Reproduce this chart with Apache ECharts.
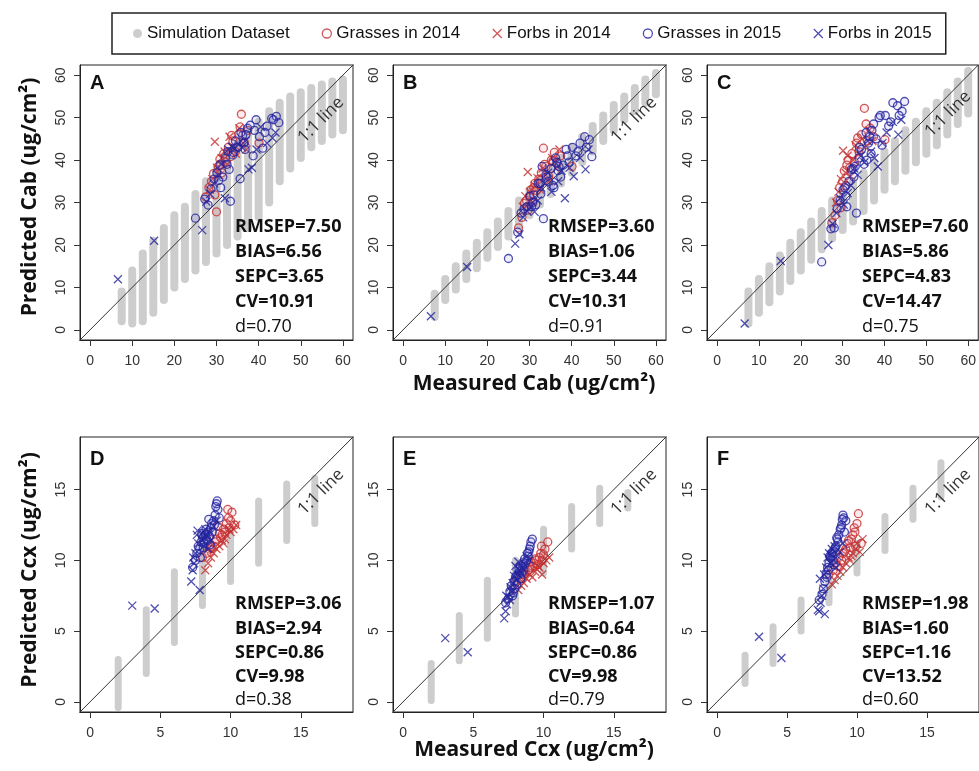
<!DOCTYPE html>
<html>
<head>
<meta charset="utf-8">
<title>Measured vs predicted Cab / Ccx</title>
<script src="https://cdn.jsdelivr.net/npm/echarts@6/dist/echarts.min.js"></script>
<style>
html, body { margin:0; padding:0; background:#fff; }
#main { width:979px; height:771px; }
</style>
</head>
<body>
<div id="main"></div>
<script>
// names and tick labels
var groupNames = ['Simulation Dataset', 'Grasses in 2014', 'Forbs in 2014', 'Grasses in 2015', 'Forbs in 2015'];
var panelLetters = ['A', 'B', 'C', 'D', 'E', 'F'];
var cabTicks = [0, 10, 20, 30, 40, 50, 60];
var ccxTicks = [0, 5, 10, 15];

// simulation dataset, one gray column per simulated value (low..high of prediction)
var simCabX = [7.5, 10, 12.5, 15, 17.5, 20, 22.5, 25, 27.5, 30, 32.5, 35, 37.5, 40, 42.5, 45, 47.5, 50, 52.5, 55, 57.5, 60];
var simALo = [2, 1.5, 2, 4, 7, 10, 12, 14, 16, 18, 20, 22, 24, 26.5, 30, 35, 38, 40.5, 43, 44.5, 46, 47];
var simAHi = [9, 14, 18, 21, 24, 27, 29, 32, 35, 38, 41, 44, 47, 49, 51.5, 53.5, 55, 56, 57, 57.8, 58.5, 59];
var simBLo = [3, 7, 9.5, 12, 14.5, 17, 19.5, 22, 24.5, 27, 29.5, 32, 34.5, 37, 39.5, 42, 44.5, 47, 49.5, 51.5, 53.5, 55.5];
var simBHi = [8.5, 12, 15, 18, 20.5, 23, 25.5, 28, 30.5, 33, 35.5, 38, 40.5, 43, 45.5, 48, 50.5, 53, 55, 57, 59, 60.5];
var simCLo = [1.5, 4, 6.5, 9, 11.5, 14, 16.5, 19, 21.5, 23.5, 25.5, 28, 30.5, 33, 35, 37.5, 39.5, 41.5, 43.5, 46, 48.5, 51];
var simCHi = [9, 12, 15, 17.5, 20.5, 23, 25.5, 28, 30.5, 32.5, 35, 37, 39.5, 42, 44.5, 47, 49, 51.5, 53.5, 56, 58.5, 61];

var simCcxX = [2, 4, 6, 8, 10, 12, 14, 16];
var simDLo = [-0.4, 2.0, 4.2, 6.8, 8.5, 9.8, 11.4, 12.6];
var simDHi = [3.0, 6.5, 9.2, 11.5, 12.2, 14.2, 15.4, 15.8];
var simELo = [0.1, 2.9, 4.5, 6.2, 9.1, 10.8, 12.6, 13.7];
var simEHi = [2.7, 6.1, 8.6, 10.0, 12.2, 13.8, 15.1, 14.8];
var simFLo = [1.3, 2.7, 5.0, 7.0, 9.1, 10.7, 12.9, 14.5];
var simFHi = [3.3, 5.3, 7.2, 9.0, 11.2, 13.1, 15.1, 16.9];

// measured Cab (shared by A, B, C)
var cabG14 = [27.4, 28.2, 28.8, 29.3, 29.6, 30.0, 30.4, 30.8, 31.3, 31.7, 32.2, 32.8, 33.3, 33.9, 34.5, 35.2, 35.9, 36.6, 37.4, 40.1, 31.0, 33.6, 35.6];
var cabF14 = [28.4, 29.0, 29.6, 30.1, 30.7, 31.2, 31.9, 32.5, 33.1, 33.8, 34.6, 35.4, 36.3, 37.1];
var cabG15 = [25.0, 27.2, 28.0, 28.7, 29.4, 30.1, 30.8, 31.5, 32.1, 32.7, 33.3, 33.9, 34.5, 35.1, 35.6, 36.2, 36.8, 37.4, 38.0, 38.7, 39.4, 40.2, 41.0, 42.0, 43.1, 44.2, 44.8, 33.0, 35.8, 31.0, 37.0, 39.0, 41.5, 43.5, 34.0, 36.5, 30.5, 32.5];
var cabF15 = [6.6, 15.2, 26.6, 27.6, 28.5, 29.4, 30.3, 31.2, 32.0, 32.8, 33.6, 34.4, 35.2, 36.0, 36.8, 37.6, 38.4, 39.5, 40.5, 42.0, 43.3, 44.0];

// predicted Cab
var predAG14 = [31.3, 33.5, 35.0, 36.8, 31.8, 27.8, 38.5, 40.2, 37.0, 41.5, 39.5, 43.0, 40.8, 44.5, 42.0, 46.0, 50.8, 44.2, 47.0, 44.0, 39.0, 45.8, 47.8];
var predAF14 = [33.0, 35.5, 44.3, 38.2, 36.4, 40.5, 42.0, 39.0, 45.5, 43.0, 41.5, 47.5, 44.0, 42.5];
var predAG15 = [26.3, 30.8, 29.4, 33.2, 35.5, 37.0, 38.8, 36.0, 40.5, 42.0, 30.3, 41.2, 44.5, 43.0, 35.6, 45.8, 42.5, 47.5, 48.2, 41.0, 49.5, 45.5, 42.8, 48.0, 49.8, 50.3, 48.8, 37.8, 46.5, 33.5, 46.0, 47.0, 46.5, 49.5, 41.8, 44.0, 35.2, 39.0];
var predAF15 = [11.9, 21.0, 23.5, 30.2, 32.0, 34.5, 36.5, 39.0, 31.0, 42.5, 43.2, 42.8, 43.8, 43.0, 44.5, 37.8, 38.2, 42.5, 47.8, 44.0, 45.2, 46.5];

var predBG14 = [24.0, 26.5, 29.8, 30.5, 28.2, 31.5, 33.0, 30.2, 34.5, 32.8, 35.5, 37.0, 42.8, 38.5, 36.2, 40.0, 41.8, 39.2, 41.0, 38.5, 33.5, 39.0, 39.8];
var predBF14 = [29.0, 31.5, 37.2, 32.5, 30.0, 34.0, 35.8, 33.0, 38.0, 36.5, 35.0, 40.5, 38.0, 42.5];
var predBG15 = [16.8, 23.0, 27.5, 28.5, 29.0, 31.5, 30.0, 29.5, 34.5, 32.0, 26.2, 36.5, 35.0, 38.0, 34.0, 40.5, 37.5, 36.0, 38.8, 42.5, 39.5, 43.0, 41.0, 44.0, 45.5, 44.8, 40.8, 38.5, 33.5, 31.8, 38.5, 41.0, 42.0, 43.0, 36.0, 39.5, 29.0, 34.5];
var predBF15 = [3.2, 14.8, 20.3, 22.5, 26.5, 28.0, 29.0, 27.8, 30.5, 33.5, 34.5, 37.0, 32.5, 39.5, 35.0, 37.5, 31.0, 38.2, 36.2, 40.5, 37.8, 42.5];

var predCG14 = [25.2, 27.0, 30.5, 33.5, 28.8, 35.0, 37.5, 34.0, 40.0, 38.2, 41.5, 39.5, 44.0, 42.0, 46.0, 52.2, 44.5, 47.5, 45.5, 44.8, 38.8, 45.2, 48.5];
var predCF14 = [30.0, 32.5, 35.5, 42.2, 37.0, 41.0, 36.2, 40.0, 43.5, 41.5, 45.0, 43.0, 47.0, 44.5];
var predCG15 = [16.0, 23.8, 24.0, 28.5, 30.5, 33.0, 31.5, 35.0, 37.8, 36.0, 27.5, 40.5, 42.5, 39.0, 46.5, 44.0, 41.5, 48.5, 45.0, 50.0, 43.5, 50.5, 48.0, 53.5, 52.8, 51.5, 53.8, 38.5, 40.0, 29.0, 47.0, 50.5, 49.0, 50.5, 43.0, 45.5, 33.5, 38.0];
var predCF15 = [1.5, 16.2, 20.0, 25.0, 27.5, 31.0, 29.5, 32.2, 34.0, 38.0, 36.5, 41.0, 39.5, 44.5, 42.0, 40.5, 38.5, 44.0, 46.5, 49.0, 46.0, 49.5];

// measured Ccx (shared by D, E, F)
var ccxG14 = [8.0, 8.3, 8.5, 8.7, 8.9, 9.0, 9.2, 9.3, 9.5, 9.6, 9.7, 9.8, 9.9, 10.0, 10.1, 8.6, 9.1, 9.4, 9.85, 10.3];
var ccxF14 = [8.2, 8.4, 8.6, 8.8, 9.0, 9.2, 9.4, 9.5, 9.7, 9.9, 10.0, 10.2, 10.4, 9.6];
var ccxG15 = [7.3, 7.5, 7.6, 7.7, 7.8, 7.9, 8.0, 8.1, 8.2, 8.3, 8.4, 8.5, 8.6, 8.7, 8.8, 8.9, 9.0, 9.1, 9.2, 8.05, 8.35, 8.65, 8.95, 7.95, 8.25, 8.55, 8.85, 9.05, 7.85, 8.45];
var ccxF15 = [3.0, 4.6, 7.2, 7.3, 7.4, 7.5, 7.6, 7.7, 7.8, 7.9, 8.0, 8.1, 8.2, 8.3, 8.4, 8.5, 8.6, 8.8, 9.0, 7.35, 7.65, 8.15];

// predicted Ccx
var predDG14 = [10.2, 10.5, 10.8, 11.0, 11.3, 11.5, 11.9, 11.6, 12.2, 12.0, 12.6, 13.6, 12.3, 12.8, 13.4, 10.9, 12.4, 11.8, 13.0, 12.5];
var predDF14 = [9.3, 9.8, 10.2, 10.5, 10.8, 11.0, 11.4, 11.2, 11.8, 12.2, 12.0, 12.2, 12.5, 11.5];
var predDG15 = [9.5, 10.0, 10.5, 11.0, 10.8, 11.3, 11.6, 11.2, 11.8, 11.5, 12.0, 11.7, 12.3, 12.0, 12.8, 13.2, 14.0, 13.6, 13.0, 10.9, 11.4, 12.6, 13.8, 11.9, 12.2, 11.1, 12.5, 14.2, 10.2, 12.9];
var predDF15 = [6.8, 6.6, 8.5, 9.3, 9.8, 10.5, 11.8, 11.2, 7.9, 11.5, 11.9, 11.0, 12.2, 11.7, 10.8, 12.0, 11.4, 12.4, 12.8, 10.2, 12.1, 11.6];

var predEG14 = [8.5, 8.8, 9.0, 9.2, 9.3, 9.5, 9.6, 9.8, 10.0, 9.7, 10.2, 10.5, 10.0, 10.4, 10.8, 9.0, 9.9, 10.1, 11.0, 11.3];
var predEF14 = [7.9, 8.2, 8.4, 8.7, 9.0, 8.8, 9.2, 9.4, 9.5, 9.0, 9.8, 10.0, 10.2, 9.6];
var predEG15 = [7.0, 7.3, 7.8, 8.2, 7.5, 8.5, 8.8, 8.3, 9.0, 9.2, 8.7, 9.5, 9.3, 9.8, 10.0, 10.3, 10.8, 11.3, 11.5, 8.9, 9.6, 10.1, 10.6, 8.0, 9.4, 9.7, 10.5, 11.0, 7.7, 9.1];
var predEF15 = [4.5, 3.5, 5.9, 6.4, 6.9, 7.4, 7.2, 7.8, 8.4, 8.9, 9.6, 8.6, 9.9, 9.3, 9.1, 9.5, 9.8, 10.3, 10.0, 7.5, 8.1, 9.0];

var predFG14 = [9.0, 9.3, 9.8, 10.2, 10.0, 10.5, 10.8, 11.2, 10.9, 11.5, 11.8, 12.3, 11.0, 12.6, 13.3, 9.6, 10.6, 11.4, 12.0, 11.2];
var predFF14 = [8.3, 8.6, 8.9, 9.2, 9.5, 9.8, 10.2, 10.0, 10.5, 10.8, 11.2, 10.6, 11.5, 10.3];
var predFG15 = [7.2, 7.6, 8.0, 8.5, 9.0, 9.5, 9.8, 10.2, 10.5, 10.0, 10.8, 11.0, 11.5, 11.8, 12.2, 12.5, 13.2, 12.0, 12.8, 10.3, 9.7, 11.3, 12.9, 9.3, 10.6, 11.6, 12.3, 13.0, 8.8, 10.9];
var predFF15 = [4.6, 3.1, 6.5, 6.4, 7.0, 7.5, 8.0, 6.2, 9.5, 10.2, 10.5, 9.8, 10.8, 10.0, 11.0, 9.5, 10.3, 10.6, 11.2, 8.7, 9.0, 10.4];

// 1:1 line ends (clipped by the grid)
var oneToOneCab = [[-5, -5], [70, 70]];
var oneToOneCcx = [[-2, -2], [21, 21]];

// statistics printed in each panel
var statsA = ['RMSEP=7.50', 'BIAS=6.56', 'SEPC=3.65', 'CV=10.91', 'd=0.70'];
var statsB = ['RMSEP=3.60', 'BIAS=1.06', 'SEPC=3.44', 'CV=10.31', 'd=0.91'];
var statsC = ['RMSEP=7.60', 'BIAS=5.86', 'SEPC=4.83', 'CV=14.47', 'd=0.75'];
var statsD = ['RMSEP=3.06', 'BIAS=2.94', 'SEPC=0.86', 'CV=9.98', 'd=0.38'];
var statsE = ['RMSEP=1.07', 'BIAS=0.64', 'SEPC=0.86', 'CV=9.98', 'd=0.79'];
var statsF = ['RMSEP=1.98', 'BIAS=1.60', 'SEPC=1.16', 'CV=13.52', 'd=0.60'];

var simGray = '#cdcdcd';
var red14 = '#c42e2e';
var blue15 = '#23239c';
var xPath = 'path://M0,0L10,10M10,0L0,10';

// grid boxes [left, top]
var boxes = [[80, 65], [393, 65], [707, 65], [80, 437], [393, 437], [707, 437]];
var boxW = 273, boxH = 275;

var panels = [
    {kind:'cab', simLo:simALo, simHi:simAHi, pred:[predAG14, predAF14, predAG15, predAF15], stats:statsA},
    {kind:'cab', simLo:simBLo, simHi:simBHi, pred:[predBG14, predBF14, predBG15, predBF15], stats:statsB},
    {kind:'cab', simLo:simCLo, simHi:simCHi, pred:[predCG14, predCF14, predCG15, predCF15], stats:statsC},
    {kind:'ccx', simLo:simDLo, simHi:simDHi, pred:[predDG14, predDF14, predDG15, predDF15], stats:statsD},
    {kind:'ccx', simLo:simELo, simHi:simEHi, pred:[predEG14, predEF14, predEG15, predEF15], stats:statsE},
    {kind:'ccx', simLo:simFLo, simHi:simFHi, pred:[predFG14, predFF14, predFG15, predFF15], stats:statsF}
];

function zip2(a, b){
    var out = [];
    for(var i=0; i<a.length; i++){ out.push([a[i], b[i]]); }
    return out;
}
function zip3(a, b, c){
    var out = [];
    for(var i=0; i<a.length; i++){ out.push([a[i], b[i], c[i]]); }
    return out;
}

// gray column from low to high value
function makeColumnRenderer(width){
    return function(params, api){
        var p1 = api.coord([api.value(0), api.value(1)]);
        var p2 = api.coord([api.value(0), api.value(2)]);
        return {
            type:'line',
            shape:{x1:p1[0], y1:p1[1], x2:p2[0], y2:p2[1]},
            style:{stroke:simGray, lineWidth:width, lineCap:'round'}
        };
    };
}

function makeAxis(kind, idx, isY){
    var isCab = kind === 'cab';
    var ticks = isCab ? cabTicks : ccxTicks;
    return {
        type:'value',
        gridIndex:idx,
        min:isCab ? -2.4 : -0.72,
        max:isCab ? 62.4 : 18.72,
        splitLine:{show:false},
        axisLine:{show:true, onZero:false, lineStyle:{color:'#222', width:1}},
        axisTick:{show:true, inside:false, length:6, customValues:ticks, lineStyle:{color:'#333', width:1}},
        axisLabel:{
            customValues:ticks, fontSize:14, color:'#333', fontFamily:'Liberation Sans',
            margin:isY ? 12 : 14, rotate:isY ? 90 : 0
        }
    };
}

var grids = [], xAxes = [], yAxes = [], series = [], graphics = [];

for(var i=0; i<panels.length; i++){
    var p = panels[i];
    var box = boxes[i];
    grids.push({left:box[0], top:box[1], width:boxW, height:boxH, show:true, borderColor:'#222', borderWidth:1});
    xAxes.push(makeAxis(p.kind, i, false));
    yAxes.push(makeAxis(p.kind, i, true));

    var measured = p.kind === 'cab' ? [cabG14, cabF14, cabG15, cabF15] : [ccxG14, ccxF14, ccxG15, ccxF15];
    var simX = p.kind === 'cab' ? simCabX : simCcxX;

    series.push({
        name:groupNames[0], type:'custom', xAxisIndex:i, yAxisIndex:i,
        renderItem:makeColumnRenderer(p.kind === 'cab' ? 8 : 7), encode:{x:0, y:[1, 2]},
        itemStyle:{color:simGray}, data:zip3(simX, p.simLo, p.simHi), z:1, silent:true
    });
    series.push({
        type:'line', xAxisIndex:i, yAxisIndex:i, symbol:'none', silent:true, z:2,
        lineStyle:{color:'#333', width:1},
        data:p.kind === 'cab' ? oneToOneCab : oneToOneCcx
    });
    for(var g=0; g<4; g++){
        var isCircle = (g % 2 === 0);
        var col = g < 2 ? red14 : blue15;
        var fill = isCircle ? (g < 2 ? 'rgba(235,120,140,0.18)' : 'rgba(110,110,235,0.15)') : 'transparent';
        series.push({
            name:groupNames[g + 1], type:'scatter', xAxisIndex:i, yAxisIndex:i, z:3,
            symbol:isCircle ? 'circle' : xPath,
            symbolSize:8,
            itemStyle:{color:fill, borderColor:col, borderWidth:1.3},
            data:zip2(measured[g], p.pred[g])
        });
    }

    // panel letter
    graphics.push({
        type:'text', x:box[0] + 10, y:box[1] + (i < 3 ? 8 : 12), z:10,
        style:{text:panelLetters[i], font:'bold 20px "Liberation Sans"', fill:'#111', align:'left', verticalAlign:'top'}
    });
    // 1:1 line label
    graphics.push({
        type:'text', x:box[0] + 241, y:box[1] + (i === 2 ? 49 : 55), rotation:Math.PI / 4, z:10,
        style:{text:'1:1 line', font:'17px "Open Sans"', fill:'#333', align:'center', verticalAlign:'middle'}
    });
    // statistics
    var offs = i < 3 ? [162, 187, 212, 237, 262] : [167, 192, 216, 240, 263];
    for(var k=0; k<p.stats.length; k++){
        graphics.push({
            type:'text', x:box[0] + 155, y:box[1] + offs[k], z:10,
            style:{
                text:p.stats[k],
                font:(k === 4 ? 'normal' : 'bold') + ' 18px "Open Sans"',
                fill:'#111', align:'left', verticalAlign:'middle'
            }
        });
    }
}

// axis titles
var titleFont = 'bold 21px "Open Sans"';
graphics.push({type:'text', x:30, y:197, rotation:Math.PI / 2,
    style:{text:'Predicted Cab (ug/cm²)', font:titleFont, fill:'#111', align:'center', verticalAlign:'middle'}});
graphics.push({type:'text', x:30, y:570, rotation:Math.PI / 2,
    style:{text:'Predicted Ccx (ug/cm²)', font:titleFont, fill:'#111', align:'center', verticalAlign:'middle'}});
graphics.push({type:'text', x:534, y:384,
    style:{text:'Measured Cab (ug/cm²)', font:titleFont, fill:'#111', align:'center', verticalAlign:'middle'}});
graphics.push({type:'text', x:534, y:750,
    style:{text:'Measured Ccx (ug/cm²)', font:titleFont, fill:'#111', align:'center', verticalAlign:'middle'}});

var legendData = [
    {name:groupNames[0], icon:'circle', itemStyle:{color:simGray, borderWidth:0}},
    {name:groupNames[1], icon:'circle', itemStyle:{color:'transparent', borderColor:red14, borderWidth:1.3}},
    {name:groupNames[2], icon:xPath, itemStyle:{color:'transparent', borderColor:red14, borderWidth:1.3}},
    {name:groupNames[3], icon:'circle', itemStyle:{color:'transparent', borderColor:blue15, borderWidth:1.3}},
    {name:groupNames[4], icon:xPath, itemStyle:{color:'transparent', borderColor:blue15, borderWidth:1.3}}
];

var chart = echarts.init(document.getElementById('main'));
chart.setOption({
    animation:false,
    backgroundColor:'#fff',
    legend:{
        data:legendData,
        left:112, top:13,
        padding:[12, 14, 12, 21],
        itemGap:32, itemWidth:9, itemHeight:9,
        borderColor:'#222', borderWidth:1.5,
        textStyle:{fontSize:17, fontFamily:'Liberation Sans', color:'#111'}
    },
    grid:grids,
    xAxis:xAxes,
    yAxis:yAxes,
    series:series,
    graphic:graphics
});
</script>
</body>
</html>
